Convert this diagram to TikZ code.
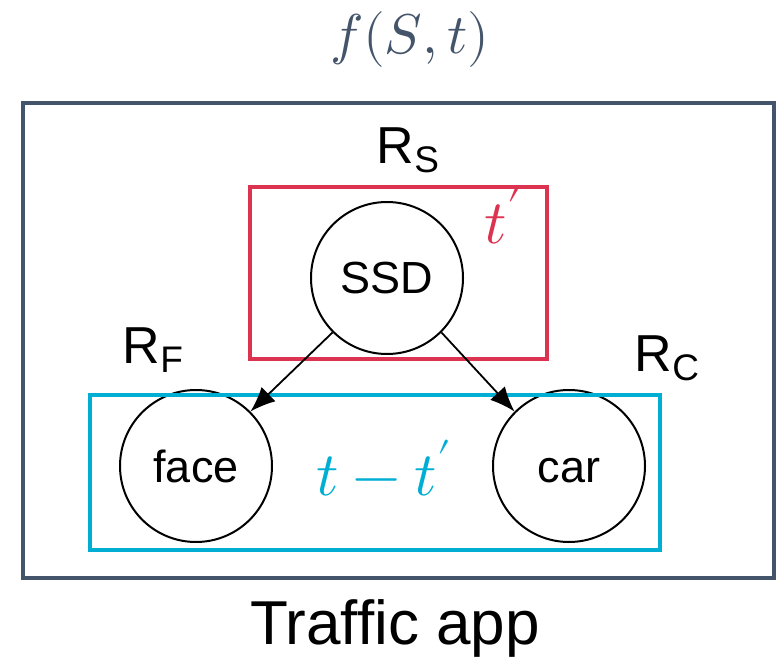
\documentclass[tikz,border=0pt]{standalone}
\usepackage{fontspec}
\usepackage{unicode-math}
\setmainfont{Liberation Sans}
\setmathfont{Latin Modern Math}
\usetikzlibrary{arrows.meta}
\definecolor{slate}{HTML}{44546A}
\definecolor{ruby}{HTML}{DC3450}
\definecolor{sky}{HTML}{00AED4}
\newcommand{\fs}[1]{\fontsize{#1}{#1}\selectfont}
\tikzset{
  model/.style={circle, draw=black, line width=2pt, minimum size=152pt, inner sep=0pt,
                font=\fs{45}, text height=32pt, text depth=0pt},
  frame/.style={line width=4.5pt},
  link/.style={line width=1.8pt, -{Latex[length=25pt,width=20pt]}},
  rlabel/.style={font=\fs{52}, inner sep=0pt},
}
\begin{document}
\begin{tikzpicture}[x=1pt,y=-1pt]
\useasboundingbox (0,0) rectangle (776,660);

% application frame
\draw[frame, draw=slate] (23,103) rectangle (774,578);
\node[text=slate, font=\fs{56}] (fn) at (410,40) {$f(S,t)$};
\node[font=\fs{62}] (app) at (395,628) {Traffic app};

% models
\node[model] (ssd) at (387,278) {SSD};
\node[model] (face) at (196,466) {face};
\node[model] (car) at (569,466) {car};

% time budgets
\draw[frame, draw=ruby] (250,187) rectangle (547,359);
\draw[frame, draw=sky] (90,395) rectangle (660,550);
\node[text=ruby, font=\fs{62}] (tp) at (503,216) {$t'$};
\node[text=sky, font=\fs{62}] (tr) at (384,468) {$t-t'$};

% resource labels
\node[rlabel] (rs) at (408,150) {R\raisebox{-9pt}{\fs{37}S}};
\node[rlabel] (rf) at (153,350) {R\raisebox{-9pt}{\fs{37}F}};
\node[rlabel] (rc) at (667,358) {R\raisebox{-9pt}{\fs{37}C}};

% data flow
\draw[link] (ssd.225) -- (face.45);
\draw[link] (ssd.-45) -- (car.135);
\end{tikzpicture}
\end{document}
